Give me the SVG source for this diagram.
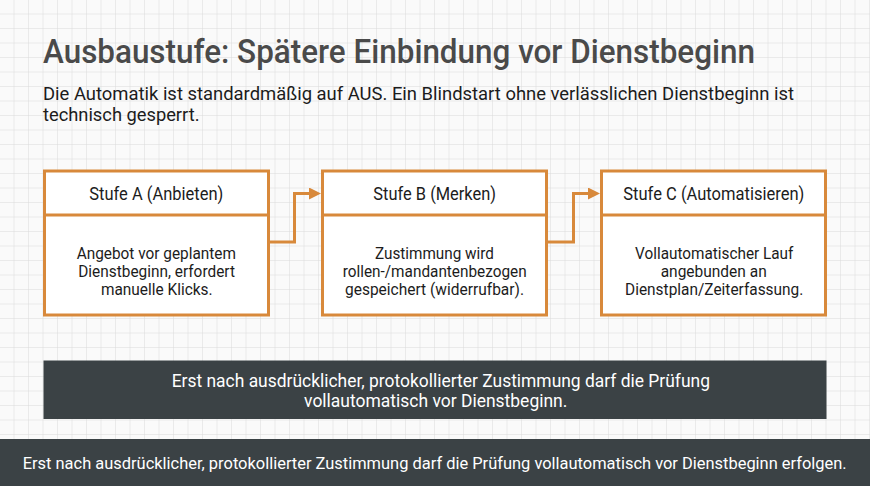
<svg xmlns="http://www.w3.org/2000/svg" width="870" height="486" viewBox="0 0 870 486">
  <defs>
    <pattern id="grid" width="14.5" height="14.5" patternUnits="userSpaceOnUse">
      <path d="M14.5 0 V14.5 M0 14.5 H14.5" fill="none" stroke="#dadada" stroke-width="1"/>
    </pattern>
    <marker id="arrow" markerWidth="12" markerHeight="12" refX="0" refY="6" orient="auto" markerUnits="userSpaceOnUse">
      <path d="M0 0 L12 6 L0 12 Z" fill="#d8893b"/>
    </marker>
    <style>
      .bg { fill: #fafafa; }
      text { font-family: Roboto, "Liberation Sans", sans-serif; }
      .title { font-weight: 500; font-size: 34px; fill: #4a4a4a; }
      .sub { font-size: 19px; fill: #1c1c1c; }
      .box { fill: #ffffff; stroke: #d8893b; stroke-width: 3; }
      .div { stroke: #d8893b; stroke-width: 3; }
      .head { font-size: 17.5px; fill: #1c1c1c; text-anchor: middle; }
      .body { font-size: 16.5px; fill: #1c1c1c; text-anchor: middle; }
      .conn { fill: none; stroke: #d8893b; stroke-width: 3; }
      .dark { fill: #3b4245; }
      .light { font-size: 17.5px; fill: #ffffff; text-anchor: middle; }
      .foot { font-size: 16.8px; fill: #ffffff; text-anchor: middle; }
    </style>
  </defs>
  <rect class="bg" x="0" y="0" width="870" height="486"/>
  <rect x="0" y="0" width="870" height="486" fill="url(#grid)"/>

  <text class="title" x="43" y="63" textLength="712" lengthAdjust="spacingAndGlyphs">Ausbaustufe: Spätere Einbindung vor Dienstbeginn</text>
  <text class="sub" x="43" y="99.5" textLength="751" lengthAdjust="spacingAndGlyphs">Die Automatik ist standardmäßig auf AUS. Ein Blindstart ohne verlässlichen Dienstbeginn ist</text>
  <text class="sub" x="43" y="120.5" textLength="156.5" lengthAdjust="spacingAndGlyphs">technisch gesperrt.</text>

  <g id="connectors">
    <path class="conn" d="M268.5 242 H294.5 V193.5 H309" marker-end="url(#arrow)"/>
    <path class="conn" d="M546.5 242 H573.5 V193.5 H588" marker-end="url(#arrow)"/>
  </g>

  <g id="stufe-a">
    <rect class="box" x="44.5" y="171" width="224" height="144"/>
    <line class="div" x1="44.5" y1="215" x2="268.5" y2="215"/>
    <text class="head" x="156.3" y="200" textLength="134" lengthAdjust="spacingAndGlyphs">Stufe A (Anbieten)</text>
    <text class="body" x="156.3" y="259.3" textLength="159.3" lengthAdjust="spacingAndGlyphs">Angebot vor geplantem</text>
    <text class="body" x="156.6" y="277.3" textLength="156.7" lengthAdjust="spacingAndGlyphs">Dienstbeginn, erfordert</text>
    <text class="body" x="156.8" y="295.2" textLength="111.7" lengthAdjust="spacingAndGlyphs">manuelle Klicks.</text>
  </g>

  <g id="stufe-b">
    <rect class="box" x="322.5" y="171" width="224" height="144"/>
    <line class="div" x1="322.5" y1="215" x2="546.5" y2="215"/>
    <text class="head" x="434.7" y="200" textLength="122.7" lengthAdjust="spacingAndGlyphs">Stufe B (Merken)</text>
    <text class="body" x="434.5" y="259.3" textLength="119" lengthAdjust="spacingAndGlyphs">Zustimmung wird</text>
    <text class="body" x="434.7" y="277.3" textLength="184" lengthAdjust="spacingAndGlyphs">rollen-/mandantenbezogen</text>
    <text class="body" x="434.5" y="295.2" textLength="179" lengthAdjust="spacingAndGlyphs">gespeichert (widerrufbar).</text>
  </g>

  <g id="stufe-c">
    <rect class="box" x="601.5" y="171" width="224" height="144"/>
    <line class="div" x1="601.5" y1="215" x2="825.5" y2="215"/>
    <text class="head" x="713.8" y="200" textLength="181" lengthAdjust="spacingAndGlyphs">Stufe C (Automatisieren)</text>
    <text class="body" x="714.2" y="259.3" textLength="158.3" lengthAdjust="spacingAndGlyphs">Vollautomatischer Lauf</text>
    <text class="body" x="713.7" y="277.3" textLength="106" lengthAdjust="spacingAndGlyphs">angebunden an</text>
    <text class="body" x="714.2" y="295.2" textLength="178.3" lengthAdjust="spacingAndGlyphs">Dienstplan/Zeiterfassung.</text>
  </g>

  <g id="hinweis">
    <rect class="dark" x="43.5" y="360.5" width="783" height="58.5"/>
    <text class="light" x="440.8" y="386.5" textLength="538.3" lengthAdjust="spacingAndGlyphs">Erst nach ausdrücklicher, protokollierter Zustimmung darf die Prüfung</text>
    <text class="light" x="435.7" y="406.8" textLength="263.3" lengthAdjust="spacingAndGlyphs">vollautomatisch vor Dienstbeginn.</text>
  </g>

  <g id="footer">
    <rect class="dark" x="0" y="439" width="870" height="47"/>
    <text class="foot" x="434.7" y="469" textLength="824" lengthAdjust="spacingAndGlyphs">Erst nach ausdrücklicher, protokollierter Zustimmung darf die Prüfung vollautomatisch vor Dienstbeginn erfolgen.</text>
  </g>
</svg>
